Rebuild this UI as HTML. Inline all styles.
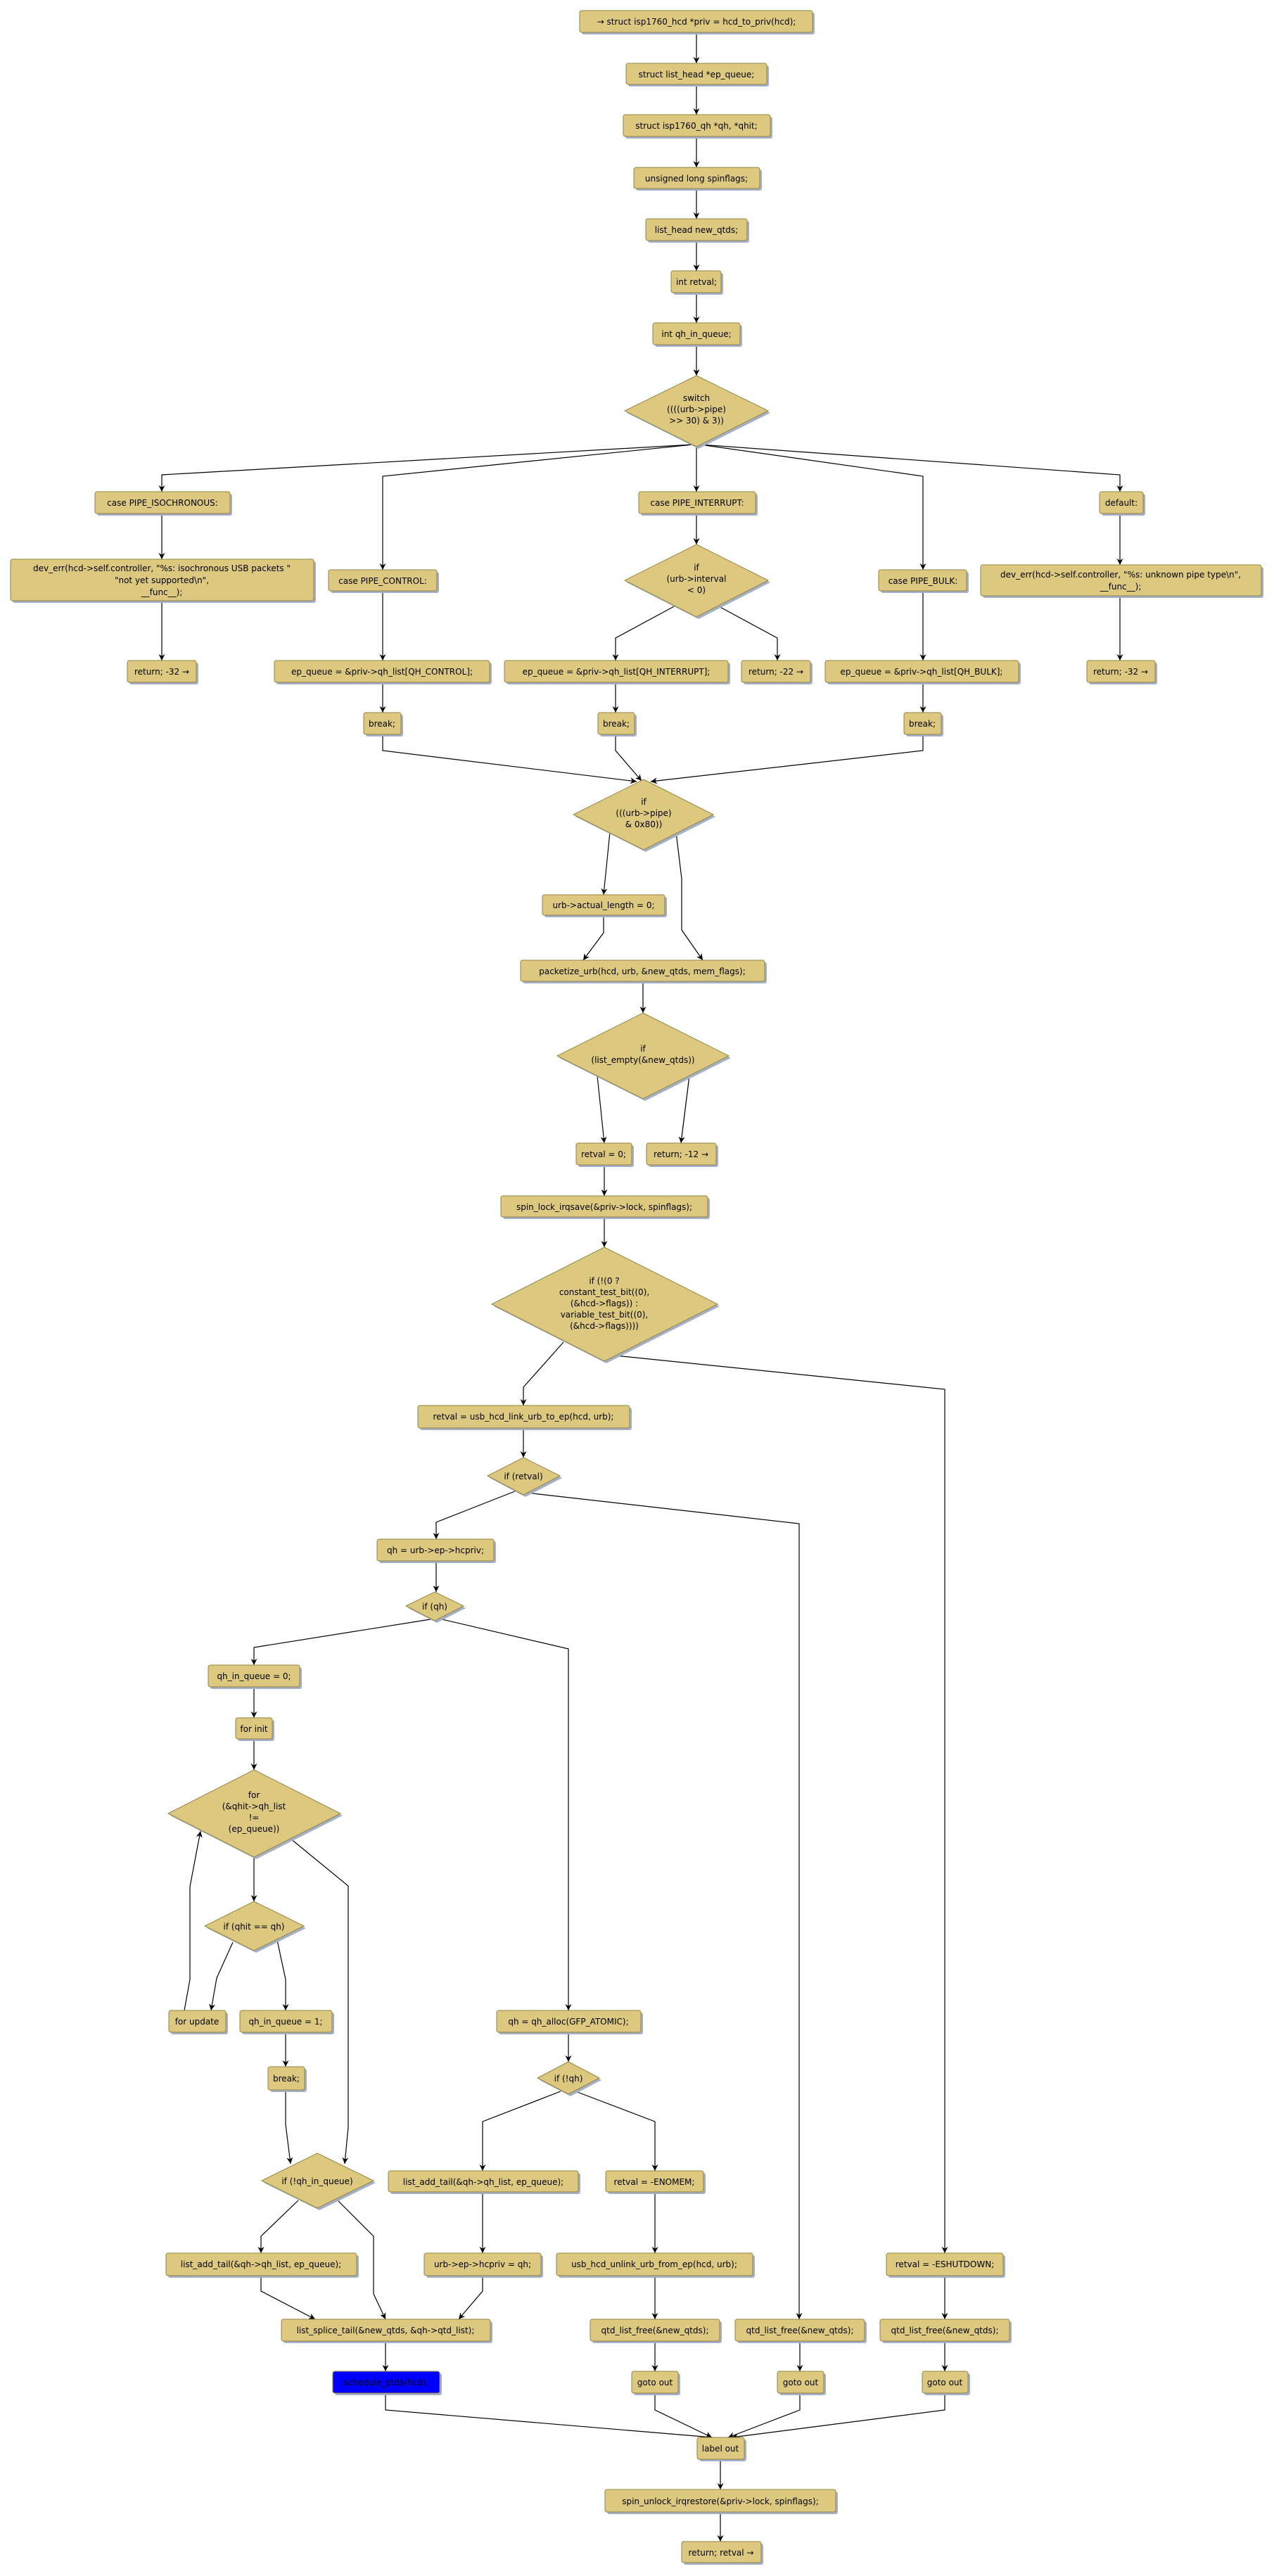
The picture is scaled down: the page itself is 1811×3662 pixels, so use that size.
<!DOCTYPE html>
<html><head><meta charset="utf-8"><style>
html,body{margin:0;padding:0;background:#fff}
svg{display:block}
text{font-family:"DejaVu Sans","Liberation Sans",sans-serif;font-size:12px;fill:#000;text-anchor:middle}
.n{fill:#dcc87e;stroke:#958543;stroke-width:1}
.s{fill:#a3b0c8}
.e{fill:none;stroke:#000;stroke-width:1.2;marker-end:url(#a)}
</style></head><body>
<svg width="1811" height="3662" viewBox="0 0 1811 3662" xmlns="http://www.w3.org/2000/svg">
<defs><marker id="a" viewBox="0 0 10 10" refX="10" refY="5" markerWidth="9" markerHeight="9" markerUnits="userSpaceOnUse" orient="auto"><path d="M0,0 L10,5 L0,10 L3,5 z" fill="#000"/></marker></defs>

<g id="edges">
<path class="e" d="M990,46V90"/><path class="e" d="M990,120V163"/><path class="e" d="M990,194V238"/><path class="e" d="M990,268V311"/><path class="e" d="M990,342V385"/><path class="e" d="M990,416V459"/><path class="e" d="M990,490V534"/>
<path class="e" d="M985,632L230,675V699"/><path class="e" d="M985,632L544,677V810"/><path class="e" d="M990,635V699"/><path class="e" d="M995,632L1312,677V810"/><path class="e" d="M995,632L1592,675V699"/>
<path class="e" d="M230,730V795"/><path class="e" d="M230,854V939"/>
<path class="e" d="M544,840V939"/><path class="e" d="M544,970V1013"/>
<path class="e" d="M990,730V774"/><path class="e" d="M962,860L875,907V939"/><path class="e" d="M1018,860L1105,907V939"/><path class="e" d="M875,970V1013"/>
<path class="e" d="M1312,840V939"/><path class="e" d="M1312,970V1013"/>
<path class="e" d="M1592,730V803"/><path class="e" d="M1592,847V939"/>
<path class="e" d="M544,1044V1067L905,1111"/><path class="e" d="M875,1044V1067L912,1110"/><path class="e" d="M1312,1044V1067L925,1111"/>
<path class="e" d="M867,1183L858,1272"/><path class="e" d="M961,1183L969,1249V1322L999,1365"/>
<path class="e" d="M858,1301V1326L829,1365"/>
<path class="e" d="M914,1395V1440"/>
<path class="e" d="M849,1529L859,1625"/><path class="e" d="M980,1529L968,1625"/>
<path class="e" d="M859,1656V1700"/><path class="e" d="M859,1730V1773"/>
<path class="e" d="M801,1908L744,1972V1998"/><path class="e" d="M874,1927L1343,1975V3203"/>
<path class="e" d="M744,2030V2072"/>
<path class="e" d="M732,2120L620,2164V2188"/><path class="e" d="M748,2122L1136,2166V3297"/>
<path class="e" d="M620,2219V2263"/>
<path class="e" d="M612,2302L361,2342V2367"/><path class="e" d="M624,2301L808,2344V2858"/>
<path class="e" d="M361,2398V2442"/><path class="e" d="M361,2472V2516"/><path class="e" d="M361,2640V2703"/>
<path class="e" d="M412,2613L495,2681V3024L490,3076"/>
<path class="e" d="M331,2761L308,2812L300,2858"/><path class="e" d="M394,2758L406,2814V2858"/>
<path class="e" d="M262,2858L270,2814V2682L285,2603"/>
<path class="e" d="M406,2889V2938"/><path class="e" d="M406,2971V3020L413,3076"/>
<path class="e" d="M424,3128L371,3179V3203"/><path class="e" d="M479,3127L531,3179V3261L548,3297"/>
<path class="e" d="M371,3235V3257L448,3297"/><path class="e" d="M686,3235V3257L652,3297"/>
<path class="e" d="M548,3328V3371"/>
<path class="e" d="M808,2889V2931"/>
<path class="e" d="M797,2973L686,3016V3086"/><path class="e" d="M818,2973L931,3016V3086"/>
<path class="e" d="M686,3116V3203"/><path class="e" d="M931,3116V3203"/><path class="e" d="M931,3235V3297"/>
<path class="e" d="M931,3328V3371"/><path class="e" d="M1137,3328V3371"/><path class="e" d="M1343,3328V3371"/><path class="e" d="M1343,3235V3297"/>
<path class="e" d="M548,3402V3426L1013,3465"/><path class="e" d="M931,3402V3426L1012,3465"/><path class="e" d="M1137,3402V3426L1035,3465"/><path class="e" d="M1343,3402V3426L1040,3465"/>
<path class="e" d="M1024,3496V3539"/><path class="e" d="M1024,3571V3613"/>
</g>

<!-- rectangular nodes: shadow + box + text -->
<g id="boxes">
<rect class="s" x="827" y="18" width="331" height="31" rx="3"/><rect class="n" x="824" y="15" width="331" height="31" rx="3"/><text x="990" y="35">→ struct isp1760_hcd *priv = hcd_to_priv(hcd);</text>
<rect class="s" x="893" y="93" width="200" height="30" rx="3"/><rect class="n" x="890" y="90" width="200" height="30" rx="3"/><text x="990" y="110">struct list_head *ep_queue;</text>
<rect class="s" x="889" y="166" width="209" height="31" rx="3"/><rect class="n" x="886" y="163" width="209" height="31" rx="3"/><text x="990" y="183">struct isp1760_qh *qh, *qhit;</text>
<rect class="s" x="904" y="241" width="179" height="30" rx="3"/><rect class="n" x="901" y="238" width="179" height="30" rx="3"/><text x="990" y="258">unsigned long spinflags;</text>
<rect class="s" x="921" y="314" width="144" height="31" rx="3"/><rect class="n" x="918" y="311" width="144" height="31" rx="3"/><text x="990" y="331">list_head new_qtds;</text>
<rect class="s" x="957" y="388" width="71" height="31" rx="3"/><rect class="n" x="954" y="385" width="71" height="31" rx="3"/><text x="990" y="405">int retval;</text>
<rect class="s" x="931" y="462" width="124" height="31" rx="3"/><rect class="n" x="928" y="459" width="124" height="31" rx="3"/><text x="990" y="479">int qh_in_queue;</text>

<rect class="s" x="138" y="702" width="192" height="31" rx="3"/><rect class="n" x="135" y="699" width="192" height="31" rx="3"/><text x="231" y="719">case PIPE_ISOCHRONOUS:</text>
<rect class="s" x="911" y="702" width="166" height="31" rx="3"/><rect class="n" x="908" y="699" width="166" height="31" rx="3"/><text x="991" y="719">case PIPE_INTERRUPT:</text>
<rect class="s" x="1566" y="702" width="62" height="31" rx="3"/><rect class="n" x="1563" y="699" width="62" height="31" rx="3"/><text x="1594" y="719">default:</text>

<rect class="s" x="18" y="798" width="431" height="59" rx="3"/><rect class="n" x="15" y="795" width="431" height="59" rx="3"/><text x="230" y="812">dev_err(hcd-&gt;self.controller, "%s: isochronous USB packets "</text><text x="230" y="829">"not yet supported\n",</text><text x="230" y="846">__func__);</text>
<rect class="s" x="470" y="813" width="154" height="30" rx="3"/><rect class="n" x="467" y="810" width="154" height="30" rx="3"/><text x="544" y="830">case PIPE_CONTROL:</text>
<rect class="s" x="1252" y="813" width="125" height="30" rx="3"/><rect class="n" x="1249" y="810" width="125" height="30" rx="3"/><text x="1312" y="830">case PIPE_BULK:</text>
<rect class="s" x="1397" y="806" width="399" height="44" rx="3"/><rect class="n" x="1394" y="803" width="399" height="44" rx="3"/><text x="1593" y="821">dev_err(hcd-&gt;self.controller, "%s: unknown pipe type\n",</text><text x="1593" y="838">__func__);</text>

<rect class="s" x="184" y="942" width="98" height="31" rx="3"/><rect class="n" x="181" y="939" width="98" height="31" rx="3"/><text x="230" y="959">return; -32 →</text>
<rect class="s" x="393" y="942" width="306" height="31" rx="3"/><rect class="n" x="390" y="939" width="306" height="31" rx="3"/><text x="543" y="959">ep_queue = &amp;priv-&gt;qh_list[QH_CONTROL];</text>
<rect class="s" x="720" y="942" width="318" height="31" rx="3"/><rect class="n" x="717" y="939" width="318" height="31" rx="3"/><text x="876" y="959">ep_queue = &amp;priv-&gt;qh_list[QH_INTERRUPT];</text>
<rect class="s" x="1057" y="942" width="98" height="31" rx="3"/><rect class="n" x="1054" y="939" width="98" height="31" rx="3"/><text x="1103" y="959">return; -22 →</text>
<rect class="s" x="1176" y="942" width="275" height="31" rx="3"/><rect class="n" x="1173" y="939" width="275" height="31" rx="3"/><text x="1310" y="959">ep_queue = &amp;priv-&gt;qh_list[QH_BULK];</text>
<rect class="s" x="1548" y="942" width="97" height="31" rx="3"/><rect class="n" x="1545" y="939" width="97" height="31" rx="3"/><text x="1593" y="959">return; -32 →</text>

<rect class="s" x="520" y="1016" width="53" height="31" rx="3"/><rect class="n" x="517" y="1013" width="53" height="31" rx="3"/><text x="543" y="1033">break;</text>
<rect class="s" x="853" y="1016" width="52" height="31" rx="3"/><rect class="n" x="850" y="1013" width="52" height="31" rx="3"/><text x="876" y="1033">break;</text>
<rect class="s" x="1288" y="1016" width="53" height="31" rx="3"/><rect class="n" x="1285" y="1013" width="53" height="31" rx="3"/><text x="1311" y="1033">break;</text>

<rect class="s" x="774" y="1275" width="174" height="29" rx="3"/><rect class="n" x="771" y="1272" width="174" height="29" rx="3"/><text x="858" y="1291">urb-&gt;actual_length = 0;</text>
<rect class="s" x="743" y="1368" width="347" height="30" rx="3"/><rect class="n" x="740" y="1365" width="347" height="30" rx="3"/><text x="913" y="1385">packetize_urb(hcd, urb, &amp;new_qtds, mem_flags);</text>
<rect class="s" x="822" y="1628" width="79" height="31" rx="3"/><rect class="n" x="819" y="1625" width="79" height="31" rx="3"/><text x="858" y="1645">retval = 0;</text>
<rect class="s" x="922" y="1628" width="99" height="31" rx="3"/><rect class="n" x="919" y="1625" width="99" height="31" rx="3"/><text x="968" y="1645">return; -12 →</text>
<rect class="s" x="715" y="1703" width="294" height="30" rx="3"/><rect class="n" x="712" y="1700" width="294" height="30" rx="3"/><text x="859" y="1720">spin_lock_irqsave(&amp;priv-&gt;lock, spinflags);</text>
<rect class="s" x="597" y="2001" width="301" height="32" rx="3"/><rect class="n" x="594" y="1998" width="301" height="32" rx="3"/><text x="744" y="2018">retval = usb_hcd_link_urb_to_ep(hcd, urb);</text>
<rect class="s" x="539" y="2191" width="166" height="31" rx="3"/><rect class="n" x="536" y="2188" width="166" height="31" rx="3"/><text x="619" y="2208">qh = urb-&gt;ep-&gt;hcpriv;</text>
<rect class="s" x="299" y="2370" width="130" height="31" rx="3"/><rect class="n" x="296" y="2367" width="130" height="31" rx="3"/><text x="361" y="2387">qh_in_queue = 0;</text>
<rect class="s" x="338" y="2445" width="52" height="30" rx="3"/><rect class="n" x="335" y="2442" width="52" height="30" rx="3"/><text x="361" y="2462">for init</text>
<rect class="s" x="243" y="2861" width="81" height="31" rx="3"/><rect class="n" x="240" y="2858" width="81" height="31" rx="3"/><text x="280" y="2878">for update</text>
<rect class="s" x="344" y="2861" width="131" height="31" rx="3"/><rect class="n" x="341" y="2858" width="131" height="31" rx="3"/><text x="406" y="2878">qh_in_queue = 1;</text>
<rect class="s" x="384" y="2941" width="52" height="33" rx="3"/><rect class="n" x="381" y="2938" width="52" height="33" rx="3"/><text x="407" y="2959">break;</text>
<rect class="s" x="709" y="2861" width="205" height="31" rx="3"/><rect class="n" x="706" y="2858" width="205" height="31" rx="3"/><text x="808" y="2878">qh = qh_alloc(GFP_ATOMIC);</text>
<rect class="s" x="555" y="3089" width="270" height="30" rx="3"/><rect class="n" x="552" y="3086" width="270" height="30" rx="3"/><text x="687" y="3106">list_add_tail(&amp;qh-&gt;qh_list, ep_queue);</text>
<rect class="s" x="864" y="3089" width="139" height="30" rx="3"/><rect class="n" x="861" y="3086" width="139" height="30" rx="3"/><text x="930" y="3106">retval = -ENOMEM;</text>
<rect class="s" x="239" y="3206" width="271" height="32" rx="3"/><rect class="n" x="236" y="3203" width="271" height="32" rx="3"/><text x="371" y="3223">list_add_tail(&amp;qh-&gt;qh_list, ep_queue);</text>
<rect class="s" x="606" y="3206" width="166" height="32" rx="3"/><rect class="n" x="603" y="3203" width="166" height="32" rx="3"/><text x="686" y="3223">urb-&gt;ep-&gt;hcpriv = qh;</text>
<rect class="s" x="794" y="3206" width="279" height="32" rx="3"/><rect class="n" x="791" y="3203" width="279" height="32" rx="3"/><text x="930" y="3223">usb_hcd_unlink_urb_from_ep(hcd, urb);</text>
<rect class="s" x="1263" y="3206" width="166" height="32" rx="3"/><rect class="n" x="1260" y="3203" width="166" height="32" rx="3"/><text x="1343" y="3223">retval = -ESHUTDOWN;</text>
<rect class="s" x="403" y="3300" width="297" height="31" rx="3"/><rect class="n" x="400" y="3297" width="297" height="31" rx="3"/><text x="548" y="3317">list_splice_tail(&amp;new_qtds, &amp;qh-&gt;qtd_list);</text>
<rect class="s" x="842" y="3300" width="184" height="31" rx="3"/><rect class="n" x="839" y="3297" width="184" height="31" rx="3"/><text x="931" y="3317">qtd_list_free(&amp;new_qtds);</text>
<rect class="s" x="1048" y="3300" width="184" height="31" rx="3"/><rect class="n" x="1045" y="3297" width="184" height="31" rx="3"/><text x="1137" y="3317">qtd_list_free(&amp;new_qtds);</text>
<rect class="s" x="1254" y="3300" width="184" height="31" rx="3"/><rect class="n" x="1251" y="3297" width="184" height="31" rx="3"/><text x="1343" y="3317">qtd_list_free(&amp;new_qtds);</text>
<rect class="s" x="476" y="3374" width="152" height="31" rx="3"/><rect x="473" y="3371" width="152" height="31" rx="3" fill="#0000ff" stroke="#958543"/><text x="549" y="3391">schedule_ptds(hcd);</text>
<rect class="s" x="901" y="3374" width="66" height="31" rx="3"/><rect class="n" x="898" y="3371" width="66" height="31" rx="3"/><text x="931" y="3391">goto out</text>
<rect class="s" x="1108" y="3374" width="66" height="31" rx="3"/><rect class="n" x="1105" y="3371" width="66" height="31" rx="3"/><text x="1138" y="3391">goto out</text>
<rect class="s" x="1314" y="3374" width="65" height="31" rx="3"/><rect class="n" x="1311" y="3371" width="65" height="31" rx="3"/><text x="1343" y="3391">goto out</text>
<rect class="s" x="994" y="3468" width="67" height="31" rx="3"/><rect class="n" x="991" y="3465" width="67" height="31" rx="3"/><text x="1024" y="3485">label out</text>
<rect class="s" x="863" y="3542" width="328" height="32" rx="3"/><rect class="n" x="860" y="3539" width="328" height="32" rx="3"/><text x="1024" y="3560">spin_unlock_irqrestore(&amp;priv-&gt;lock, spinflags);</text>
<rect class="s" x="972" y="3616" width="113" height="30" rx="3"/><rect class="n" x="969" y="3613" width="113" height="30" rx="3"/><text x="1025" y="3633">return; retval →</text>
</g>

<g id="diamonds">
<polygon class="s" points="993,537 1095,587 993,638 891,587"/><polygon class="n" points="990,534 1092,584 990,635 888,584"/>
<text x="990" y="570">switch</text><text x="990" y="586">((((urb-&gt;pipe)</text><text x="990" y="602">&gt;&gt; 30) &amp; 3))</text>
<polygon class="s" points="993,777 1095,828 993,880 891,828"/><polygon class="n" points="990,774 1092,825 990,877 888,825"/>
<text x="990" y="811">if</text><text x="990" y="827">(urb-&gt;interval</text><text x="990" y="843">&lt; 0)</text>
<polygon class="s" points="918,1111 1017,1161 918,1211 818,1161"/><polygon class="n" points="915,1108 1014,1158 915,1208 815,1158"/>
<text x="915" y="1144">if</text><text x="915" y="1160">(((urb-&gt;pipe)</text><text x="915" y="1176">&amp; 0x80))</text>
<polygon class="s" points="917,1443 1039,1504 917,1565 795,1504"/><polygon class="n" points="914,1440 1036,1501 914,1562 792,1501"/>
<text x="914" y="1495">if</text><text x="914" y="1511">(list_empty(&amp;new_qtds))</text>
<polygon class="s" points="862,1776 1023,1857 862,1938 702,1857"/><polygon class="n" points="859,1773 1020,1854 859,1935 699,1854"/>
<text x="859" y="1825">if (!(0 ?</text><text x="859" y="1841">constant_test_bit((0),</text><text x="859" y="1857">(&amp;hcd-&gt;flags)) :</text><text x="859" y="1873">variable_test_bit((0),</text><text x="859" y="1889">(&amp;hcd-&gt;flags))))</text>
<polygon class="s" points="747,2075 799,2101 747,2128 696,2101"/><polygon class="n" points="744,2072 796,2098 744,2125 693,2098"/>
<text x="744" y="2103">if (retval)</text>
<polygon class="s" points="621,2266 662,2286 621,2307 580,2286"/><polygon class="n" points="618,2263 659,2283 618,2304 577,2283"/>
<text x="618" y="2288">if (qh)</text>
<polygon class="s" points="364,2519 487,2581 364,2643 242,2581"/><polygon class="n" points="361,2516 484,2578 361,2640 239,2578"/>
<text x="361" y="2556">for</text><text x="361" y="2572">(&amp;qhit-&gt;qh_list</text><text x="361" y="2588">!=</text><text x="361" y="2604">(ep_queue))</text>
<polygon class="s" points="364,2706 435,2741 364,2776 294,2741"/><polygon class="n" points="361,2703 432,2738 361,2773 291,2738"/>
<text x="361" y="2743">if (qhit == qh)</text>
<polygon class="s" points="811,2934 855,2957 811,2980 767,2957"/><polygon class="n" points="808,2931 852,2954 808,2977 764,2954"/>
<text x="808" y="2959">if (!qh)</text>
<polygon class="s" points="454,3064 534,3103 454,3142 375,3103"/><polygon class="n" points="451,3061 531,3100 451,3139 372,3100"/>
<text x="451" y="3105">if (!qh_in_queue)</text>
</g>
</svg>
</body></html>
